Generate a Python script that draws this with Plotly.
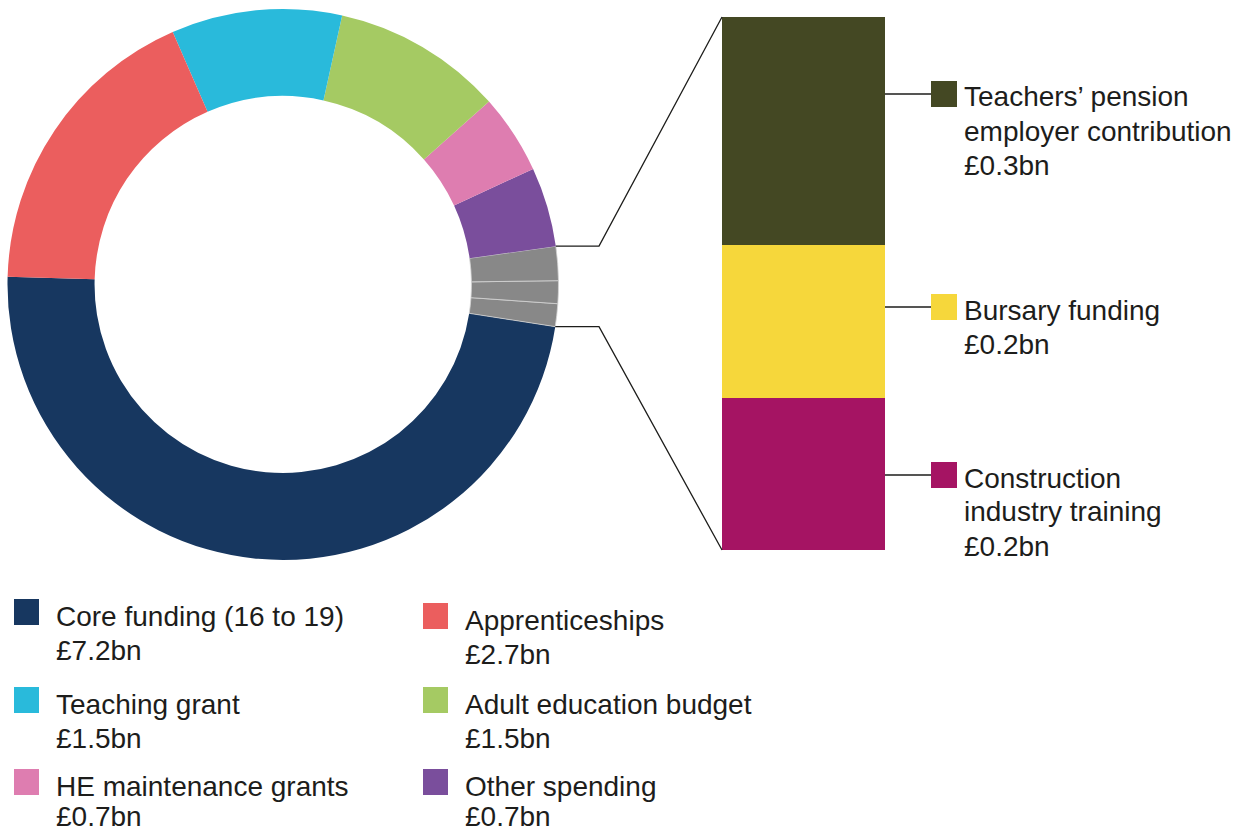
import math
import plotly.graph_objects as go

# ---- data -------------------------------------------------------------
# Ring segments, in drawing order (anticlockwise from the left)
ring_labels = [
    "Core funding (16 to 19)",
    "Construction industry training",
    "Bursary funding",
    "Teachers’ pension employer contribution",
    "Other spending",
    "HE maintenance grants",
    "Adult education budget",
    "Teaching grant",
    "Apprenticeships",
]
ring_values = [7.2, 0.2, 0.2, 0.3, 0.7, 0.7, 1.5, 1.5, 2.7]
ring_colors = ["#173760", "#888888", "#888888", "#888888", "#7A4E9C",
               "#DE7DB0", "#A5CA63", "#29BADB", "#EB5E5E"]

# Breakdown of the grey segment (bottom to top of the stacked column)
detail_labels = ["Construction industry training", "Bursary funding",
                 "Teachers’ pension employer contribution"]
detail_values = [0.2, 0.2, 0.3]
detail_colors = ["#A51463", "#F6D73B", "#444823"]
detail_text = [
    ["Construction", "industry training", "£0.2bn"],
    ["Bursary funding", "£0.2bn"],
    ["Teachers’ pension", "employer contribution", "£0.3bn"],
]

# Key below the ring: (label, amount, colour)
key_entries = [
    ("Core funding (16 to 19)", "£7.2bn", "#173760"),
    ("Apprenticeships", "£2.7bn", "#EB5E5E"),
    ("Teaching grant", "£1.5bn", "#29BADB"),
    ("Adult education budget", "£1.5bn", "#A5CA63"),
    ("HE maintenance grants", "£0.7bn", "#DE7DB0"),
    ("Other spending", "£0.7bn", "#7A4E9C"),
]

# ---- geometry (pixels) ------------------------------------------------
W, H = 1252, 834
CX, CY, R = 283.0, 284.5, 275.5
HOLE = 0.684
ROTATION = 98.8
BAR_X0, BAR_X1, BAR_Y0, BAR_Y1 = 722, 885, 17, 550
KNEE_X = 599

FONT = "Liberation Sans, Arial, sans-serif"
TXT = "#1d1d1b"
FS = 28


def px(x):
    return x / W


def py(y):
    return 1 - y / H


fig = go.Figure()

fig.add_trace(go.Pie(
    labels=ring_labels,
    values=ring_values,
    sort=False,
    direction="counterclockwise",
    rotation=ROTATION,
    hole=HOLE,
    marker=dict(colors=ring_colors,
                line=dict(color="#d4d4d4",
                          width=[0, 0.8, 0.8, 0.8, 0, 0, 0, 0, 0])),
    textinfo="none",
    hoverinfo="label+value",
    showlegend=False,
    domain=dict(x=[px(CX - R), px(CX + R)], y=[py(CY + R), py(CY - R)]),
))

for lab, val, col in zip(detail_labels, detail_values, detail_colors):
    fig.add_trace(go.Bar(
        x=["detail"], y=[val], name=lab,
        marker=dict(color=col, line=dict(width=0)),
        width=1, showlegend=False, hoverinfo="name+y",
    ))

fig.update_layout(
    width=W, height=H,
    margin=dict(l=0, r=0, t=0, b=0),
    paper_bgcolor="white", plot_bgcolor="white",
    barmode="stack", bargap=0,
    xaxis=dict(domain=[px(BAR_X0), px(BAR_X1)], visible=False,
               range=[-0.5, 0.5], fixedrange=True),
    yaxis=dict(domain=[py(BAR_Y1), py(BAR_Y0)], visible=False,
               range=[0, sum(detail_values)], fixedrange=True),
    showlegend=False,
)

# Connector lines from the grey segment to the column
unit = 360.0 / sum(ring_values)
a_low = ROTATION
a_up = ROTATION - sum(detail_values) * unit


def edge(a):
    r = math.radians(a)
    return CX + R * math.sin(r), CY - R * math.cos(r)


for a, (bx, by) in ((a_up, (BAR_X0, BAR_Y0)), (a_low, (BAR_X0, BAR_Y1))):
    ex, ey = edge(a)
    fig.add_shape(type="path", xref="paper", yref="paper",
                  path=f"M {px(ex)},{py(ey)} L {px(KNEE_X)},{py(ey)} L {px(bx)},{py(by)}",
                  line=dict(color="#1d1d1b", width=1.3))

# Labels for the column segments
label_rows = [475, 307, 94]
for rowy, col, lines in zip(label_rows, detail_colors, detail_text):
    fig.add_shape(type="line", xref="paper", yref="paper",
                  x0=px(BAR_X1), x1=px(932), y0=py(rowy), y1=py(rowy),
                  line=dict(color="#1d1d1b", width=1.3))
    fig.add_shape(type="rect", xref="paper", yref="paper",
                  x0=px(931), x1=px(957), y0=py(rowy - 13), y1=py(rowy + 13),
                  fillcolor=col, line=dict(width=0))
    for i, t in enumerate(lines):
        fig.add_annotation(x=px(962), y=py(rowy + 3 + 34 * i), xref="paper", yref="paper",
                           text=t, showarrow=False, xanchor="left", yanchor="middle",
                           font=dict(family=FONT, size=FS, color=TXT))

# Key below the ring
col_x = [(14, 54), (423, 463)]
row_y = [616, 704, 786]
for k, (name, amt, col) in enumerate(key_entries):
    (sx, tx) = col_x[k % 2]
    ry = row_y[k // 2] + (4 if (k % 2 == 1 and k // 2 == 0) else 0)
    fig.add_shape(type="rect", xref="paper", yref="paper",
                  x0=px(sx), x1=px(sx + 25), y0=py(ry - 4 + 13), y1=py(ry - 4 - 13),
                  fillcolor=col, line=dict(width=0))
    fig.add_annotation(x=px(tx), y=py(ry), xref="paper", yref="paper",
                       text=name, showarrow=False, xanchor="left", yanchor="middle",
                       font=dict(family=FONT, size=FS, color=TXT))
    if k // 2 == 2:
        # last row sits flush with the bottom edge
        fig.add_annotation(x=px(tx), y=0, xref="paper", yref="paper",
                           text=amt, showarrow=False, xanchor="left", yanchor="bottom",
                           font=dict(family=FONT, size=FS, color=TXT))
    else:
        fig.add_annotation(x=px(tx), y=py(ry + 34), xref="paper", yref="paper",
                           text=amt, showarrow=False, xanchor="left", yanchor="middle",
                           font=dict(family=FONT, size=FS, color=TXT))

fig.write_html("out.html")
